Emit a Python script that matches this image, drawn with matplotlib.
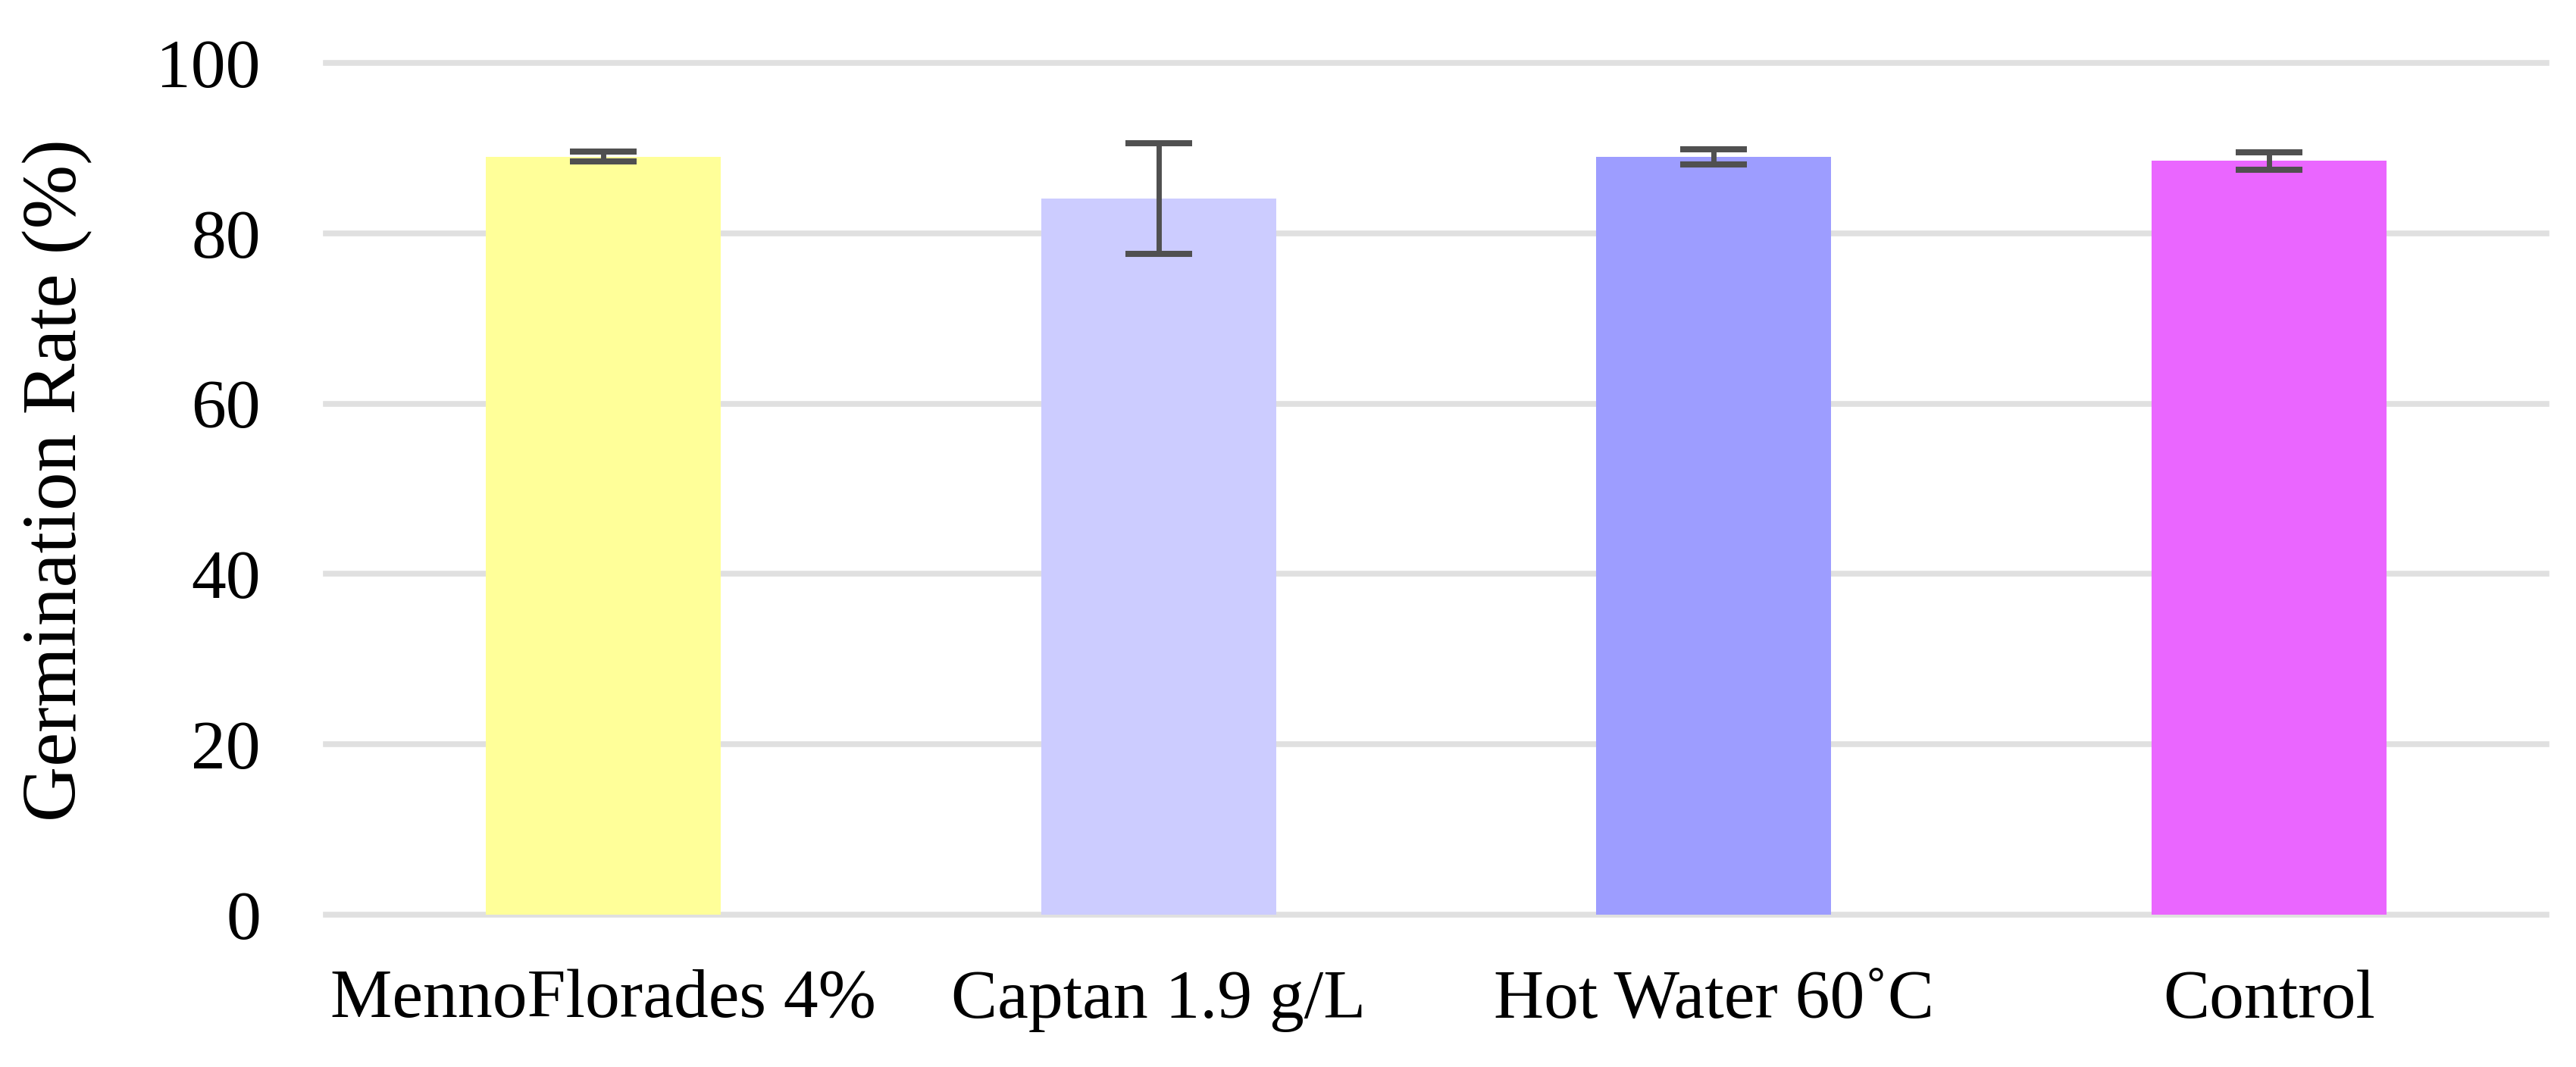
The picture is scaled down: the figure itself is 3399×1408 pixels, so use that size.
import numpy as np
import matplotlib.pyplot as plt

# Data
treatments = ["MennoFlorades 4%", "Captan 1.9 g/L", "Hot Water 60˚C", "Control"]
germination = [89.0, 84.1, 89.0, 88.5]
errors = [0.6, 6.5, 0.9, 1.0]
bar_colors = ["#FFFF99", "#CCCCFF", "#9D9DFF", "#EA66FF"]

plt.rcParams['font.family'] = ['Liberation Serif', 'DejaVu Serif']

fig = plt.figure(figsize=(33.99, 14.08), dpi=100)
ax = fig.add_axes([430 / 3399, 1 - 1207 / 1408, 2930 / 3399, 1124 / 1408])

x = np.arange(len(treatments))
ax.bar(x, germination, width=0.423, color=bar_colors, zorder=2)
ax.errorbar(x, germination, yerr=errors, fmt='none', ecolor='#505050',
            elinewidth=5, capsize=32, capthick=5.8, zorder=3)

ax.set_xlim(-0.5, len(treatments) - 0.5)
ax.set_ylim(0, 100)
ax.set_yticks([0, 20, 40, 60, 80, 100])
ax.set_xticks(x)
ax.set_xticklabels(treatments)

ax.grid(axis='y', color='#e0e0e0', linewidth=5.5, zorder=0)
ax.set_axisbelow(True)
for line in ax.get_ygridlines():
    line.set_clip_on(False)

for side in ['top', 'right', 'left', 'bottom']:
    ax.spines[side].set_visible(False)

ax.tick_params(axis='both', length=0, labelsize=66)
ax.tick_params(axis='y', pad=62)
ax.tick_params(axis='x', pad=52)

ax.set_ylabel("Germination Rate (%)", fontsize=73)
ax.yaxis.set_label_coords(-0.105, 0.51)

fig.savefig("out.png", dpi=100)
